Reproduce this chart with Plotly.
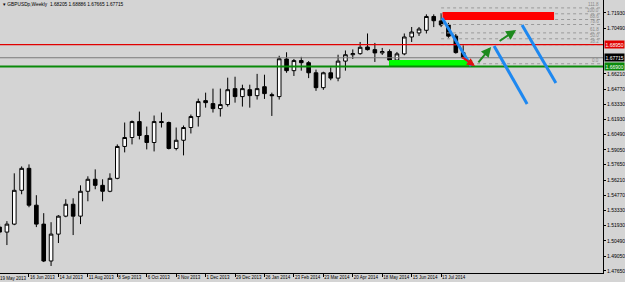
import pandas as pd
import plotly.graph_objects as go

# ---------------- data (GBPUSDp, weekly) ----------------
week_start = "2013-05-19"
dates = pd.date_range(week_start, periods=64, freq="7D")

open_ = [1.5178, 1.5131, 1.5206, 1.5524, 1.5731, 1.5384, 1.5206, 1.4859, 1.5112, 1.5281,
         1.5393, 1.5281, 1.5515, 1.5628, 1.5571, 1.5515, 1.5637, 1.5937, 1.6021, 1.6171,
         1.6040, 1.5974, 1.6171, 1.6162, 1.5918, 1.5995, 1.6115, 1.6218, 1.6368, 1.6340,
         1.6293, 1.6331, 1.6481, 1.6406, 1.6471, 1.6415, 1.6499, 1.6424, 1.6406, 1.6760,
         1.6650, 1.6745, 1.6725, 1.6630, 1.6490, 1.6630, 1.6580, 1.6740, 1.6800, 1.6810,
         1.6873, 1.6848, 1.6817, 1.6830, 1.6750, 1.6808, 1.6967, 1.7005, 1.7030, 1.7160,
         1.7118, 1.7080, 1.6975, 1.68205]
high = [1.5206, 1.5234, 1.5684, 1.5749, 1.5768, 1.5478, 1.5309, 1.5224, 1.5290, 1.5440,
        1.5449, 1.5571, 1.5656, 1.5721, 1.5628, 1.5684, 1.5956, 1.6162, 1.6181, 1.6265,
        1.6124, 1.6228, 1.6256, 1.6171, 1.6115, 1.6134, 1.6237, 1.6387, 1.6443, 1.6481,
        1.6481, 1.6584, 1.6593, 1.6518, 1.6518, 1.6620, 1.6612, 1.6443, 1.6790, 1.6823,
        1.6760, 1.6780, 1.6740, 1.6660, 1.6640, 1.6680, 1.6800, 1.6840, 1.6850, 1.6920,
        1.7000, 1.6911, 1.6864, 1.6850, 1.6826, 1.7000, 1.7061, 1.7061, 1.7180, 1.7180,
        1.7191, 1.7100, 1.6995, 1.68886]
low = [1.5103, 1.5009, 1.5196, 1.5487, 1.5365, 1.5178, 1.4849, 1.4812, 1.5028, 1.5271,
       1.5103, 1.5206, 1.5421, 1.5534, 1.5421, 1.5506, 1.5628, 1.5881, 1.5956, 1.6003,
       1.5909, 1.5890, 1.6115, 1.5909, 1.5900, 1.5853, 1.6059, 1.6124, 1.6302, 1.6256,
       1.6218, 1.6312, 1.6349, 1.6312, 1.6302, 1.6378, 1.6384, 1.6224, 1.6378, 1.6630,
       1.6600, 1.6650, 1.6580, 1.6460, 1.6470, 1.6560, 1.6550, 1.6650, 1.6760, 1.6800,
       1.6840, 1.6732, 1.6798, 1.6690, 1.6700, 1.6795, 1.6920, 1.6977, 1.7000, 1.7060,
       1.7060, 1.6960, 1.6810, 1.67665]
close = [1.5131, 1.5206, 1.5524, 1.5731, 1.5384, 1.5206, 1.4859, 1.5112, 1.5281, 1.5393,
         1.5281, 1.5515, 1.5628, 1.5571, 1.5515, 1.5637, 1.5937, 1.6021, 1.6171, 1.6040,
         1.5974, 1.6171, 1.6162, 1.5918, 1.5995, 1.6115, 1.6218, 1.6359, 1.6349, 1.6293,
         1.6331, 1.6471, 1.6406, 1.6481, 1.6415, 1.6481, 1.6434, 1.6415, 1.6762, 1.6650,
         1.6745, 1.6725, 1.6630, 1.6490, 1.6630, 1.6580, 1.6740, 1.6800, 1.6810, 1.6870,
         1.6848, 1.6817, 1.6830, 1.6750, 1.6808, 1.6967, 1.7014, 1.7042, 1.7160, 1.7120,
         1.7080, 1.6975, 1.6820, 1.67715]

x_tick_labels = ["19 May 2013", "16 Jun 2013", "14 Jul 2013", "11 Aug 2013", "8 Sep 2013",
                 "6 Oct 2013", "3 Nov 2013", "1 Dec 2013", "29 Dec 2013", "26 Jan 2014",
                 "23 Feb 2014", "23 Mar 2014", "20 Apr 2014", "18 May 2014", "15 Jun 2014",
                 "13 Jul 2014"]
y_tick_values = [1.4765, 1.4905, 1.5049, 1.5193, 1.5333, 1.5477, 1.5621, 1.5765, 1.5905,
                 1.6049, 1.6193, 1.6333, 1.6477, 1.6621, 1.7049, 1.7193]

header = "GBPUSDp,Weekly  1.68205 1.68886 1.67665 1.67715"

# horizontal levels
resist_level = 1.6895
support_level = 1.6690
bid_level = 1.67715

# fibonacci (100 -> 0)
fib_high, fib_low = 1.7185, 1.6715
fib_levels = [0.0, 0.382, 0.5, 0.618, 0.786, 0.886, 1.0, 1.118]
fib_names = ["0.0", "38.2", "50.0", "61.8", "78.6", "88.6", "100.0", "111.8"]

# hand drawn objects, in (week index, price)
red_zone = (60.2, 75.35, 1.7127, 1.7202)
green_zone = (52.93, 64.22, 1.6694, 1.6751)
blue_lines = [((60.14, 1.7146), (64.08, 1.6694)),
              ((67.2, 1.6882), (71.69, 1.6337)),
              ((71.0, 1.7080), (75.6, 1.6534))]
green_arrows = [((64.9, 1.6713), (66.8, 1.6873)),
                ((67.75, 1.6920), (70.2, 1.7033))]
red_arrow = ((62.7, 1.6785), (64.6, 1.6694))

# ---------------- figure ----------------
base = pd.Timestamp(week_start)


def wk(i):
    return base + pd.Timedelta(days=7 * i)


FONT = "Liberation Sans, Arial, sans-serif"
BG = "#D4D4D4"

fig = go.Figure()
fig.add_trace(go.Candlestick(
    x=dates, open=open_, high=high, low=low, close=close,
    increasing=dict(fillcolor="white", line=dict(color="black", width=1)),
    decreasing=dict(fillcolor="black", line=dict(color="black", width=1)),
    whiskerwidth=0, showlegend=False, hoverinfo="skip"))

shapes = []
# fib lines (drawn first, beneath the zones)
for lv in fib_levels:
    p = fib_low + lv * (fib_high - fib_low)
    shapes.append(dict(type="line", xref="x", yref="y", x0=wk(60), x1=wk(82.0), y0=p, y1=p,
                       line=dict(color="#9A9A9A", width=1, dash="dot"), layer="above"))
# horizontal lines
shapes.append(dict(type="line", xref="paper", yref="y", x0=0, x1=1, y0=bid_level, y1=bid_level,
                   line=dict(color="#7A7A7A", width=1), layer="above"))
# zones
shapes.append(dict(type="rect", xref="x", yref="y", x0=wk(red_zone[0]), x1=wk(red_zone[1]),
                   y0=red_zone[2], y1=red_zone[3], fillcolor="#FF0000", line=dict(width=0), layer="above"))
shapes.append(dict(type="rect", xref="x", yref="y", x0=wk(green_zone[0]), x1=wk(green_zone[1]),
                   y0=green_zone[2], y1=green_zone[3], fillcolor="#00FF00", line=dict(width=0), layer="above"))
shapes.append(dict(type="line", xref="paper", yref="y", x0=0, x1=1, y0=resist_level, y1=resist_level,
                   line=dict(color="#E00000", width=1.3), layer="above"))
shapes.append(dict(type="line", xref="paper", yref="y", x0=0, x1=1, y0=support_level, y1=support_level,
                   line=dict(color="#0A8A0A", width=2), layer="above"))
# blue trend lines
for (a, b) in blue_lines:
    shapes.append(dict(type="line", xref="x", yref="y", x0=wk(a[0]), y0=a[1], x1=wk(b[0]), y1=b[1],
                       line=dict(color="#1E88F0", width=3), layer="above"))

annotations = []
for (a, b) in green_arrows:
    annotations.append(dict(x=wk(b[0]), y=b[1], ax=wk(a[0]), ay=a[1], xref="x", yref="y",
                            axref="x", ayref="y", showarrow=True, arrowhead=2, arrowsize=1,
                            arrowwidth=2, arrowcolor="#1E8A1E", text=""))
annotations.append(dict(x=wk(red_arrow[1][0]), y=red_arrow[1][1], ax=wk(red_arrow[0][0]),
                        ay=red_arrow[0][1], xref="x", yref="y", axref="x", ayref="y",
                        showarrow=True, arrowhead=2, arrowsize=0.8, arrowwidth=2,
                        arrowcolor="#E01010", text=""))
# fib texts
for lv, nm in zip(fib_levels, fib_names):
    p = fib_low + lv * (fib_high - fib_low)
    annotations.append(dict(x=1, xref="paper", y=p, yref="y", text=nm, showarrow=False,
                            xanchor="right", yanchor="bottom", xshift=-2, yshift=-1,
                            font=dict(family=FONT, size=4.5, color="#8A8A8A")))
# price labels on axis
for lvl, col in [(resist_level, "#E00000"), (bid_level, "#000000"), (support_level, "#0A8A0A")]:
    annotations.append(dict(x=1, xref="paper", y=lvl, yref="y", text=f"{lvl:.5f}", showarrow=False,
                            xanchor="left", yanchor="middle", xshift=1, bgcolor=col, borderpad=0.5,
                            font=dict(family=FONT, size=5, color="white")))
# header
annotations.append(dict(x=0, xref="paper", y=1, yref="paper", text="\u25BE " + header,
                        showarrow=False, xanchor="left", yanchor="top", xshift=1, yshift=0,
                        font=dict(family=FONT, size=4.8, color="black")))
# first (cut) date label
x0_rng, x1_rng = 0.06, 82.0
annotations.append(dict(x=(0 - x0_rng) / (x1_rng - x0_rng), xref="paper", y=0, yref="paper",
                        text=x_tick_labels[0], showarrow=False, xanchor="left", yanchor="top",
                        yshift=-1, xshift=-2, font=dict(family=FONT, size=4.5, color="black")))

fig.update_layout(
    width=625, height=282,
    margin=dict(l=0, r=22, t=0, b=9),
    paper_bgcolor=BG, plot_bgcolor=BG,
    showlegend=False,
    shapes=shapes, annotations=annotations,
    xaxis=dict(
        type="date", range=[wk(x0_rng), wk(x1_rng)],
        rangeslider=dict(visible=False),
        showgrid=False, zeroline=False,
        showline=True, linecolor="black", linewidth=1,
        ticks="outside", ticklen=3, tickcolor="black",
        tickvals=[wk(4 * k) for k in range(1, len(x_tick_labels))],
        ticktext=x_tick_labels[1:],
        tickangle=0,
        ticklabelposition="outside right",
        tickfont=dict(family=FONT, size=4.5, color="black"),
        fixedrange=True,
    ),
    yaxis=dict(
        side="right", range=[1.4746, 1.7315],
        showgrid=False, zeroline=False,
        showline=True, linecolor="black", linewidth=1,
        ticks="outside", ticklen=2, tickcolor="black",
        tickvals=y_tick_values, ticktext=[f"{v:.5f}" for v in y_tick_values],
        tickfont=dict(family=FONT, size=5, color="black"),
        fixedrange=True,
    ),
)

fig.write_html("out.html")
